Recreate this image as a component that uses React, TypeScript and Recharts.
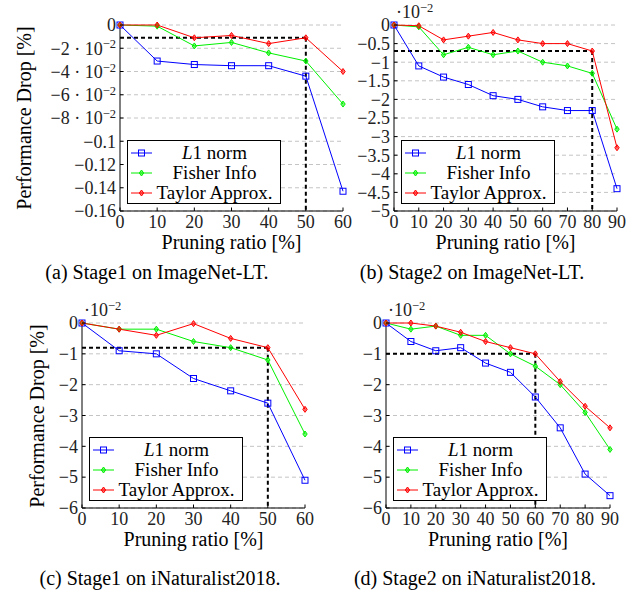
import React from 'react';
import { LineChart, Line, XAxis, YAxis, CartesianGrid, ReferenceLine, Legend } from 'recharts';

const FONT = 'Liberation Serif, Times New Roman, serif';

// ---------- Data ----------
// (a) Stage1 on ImageNet-LT
const ratiosA = [0, 10, 20, 30, 40, 50, 60];
const l1A = [0, -0.031, -0.034, -0.035, -0.035, -0.044, -0.143];
const fisherA = [0, -0.001, -0.018, -0.015, -0.024, -0.031, -0.068];
const taylorA = [0, 0, -0.011, -0.009, -0.016, -0.011, -0.04];
const yTicksA = [0, -0.02, -0.04, -0.06, -0.08, -0.1, -0.12, -0.14, -0.16];
const yTickLabelsA: [string, string][] = [
  ['0', ''], ['\u22122 \u00b7 10', '\u22122'], ['\u22124 \u00b7 10', '\u22122'], ['\u22126 \u00b7 10', '\u22122'],
  ['\u22128 \u00b7 10', '\u22122'], ['\u22120.1', ''], ['\u22120.12', ''], ['\u22120.14', ''], ['\u22120.16', ''],
];
const cutoffA = { x: 50, y: -0.011 };

// (b) Stage2 on ImageNet-LT (values in 10^-2)
const ratiosB = [0, 10, 20, 30, 40, 50, 60, 70, 80, 90];
const l1B = [0, -1.1, -1.4, -1.6, -1.9, -2.0, -2.2, -2.3, -2.3, -4.4];
const fisherB = [0, -0.05, -0.8, -0.6, -0.8, -0.7, -1.0, -1.1, -1.3, -2.8];
const taylorB = [0, -0.02, -0.4, -0.3, -0.2, -0.4, -0.5, -0.5, -0.7, -3.3];
const yTicksB = [0, -0.5, -1, -1.5, -2, -2.5, -3, -3.5, -4, -4.5, -5];
const yTickLabelsB: [string, string][] = [
  ['0', ''], ['\u22120.5', ''], ['\u22121', ''], ['\u22121.5', ''], ['\u22122', ''], ['\u22122.5', ''],
  ['\u22123', ''], ['\u22123.5', ''], ['\u22124', ''], ['\u22124.5', ''], ['\u22125', ''],
];
const cutoffB = { x: 80, y: -0.7 };

// (c) Stage1 on iNaturalist2018 (values in 10^-2)
const ratiosC = [0, 10, 20, 30, 40, 50, 60];
const l1C = [0, -0.9, -1.0, -1.8, -2.2, -2.6, -5.1];
const fisherC = [0, -0.2, -0.2, -0.6, -0.8, -1.2, -3.6];
const taylorC = [0, -0.2, -0.4, -0.02, -0.5, -0.8, -2.8];
const yTicksC = [0, -1, -2, -3, -4, -5, -6];
const yTickLabelsC: [string, string][] = [
  ['0', ''], ['\u22121', ''], ['\u22122', ''], ['\u22123', ''], ['\u22124', ''], ['\u22125', ''], ['\u22126', ''],
];
const cutoffC = { x: 50, y: -0.8 };

// (d) Stage2 on iNaturalist2018 (values in 10^-2)
const ratiosD = [0, 10, 20, 30, 40, 50, 60, 70, 80, 90];
const l1D = [0, -0.6, -0.9, -0.8, -1.3, -1.6, -2.4, -3.4, -4.9, -5.6];
const fisherD = [0, -0.2, -0.1, -0.4, -0.4, -1.0, -1.4, -2.0, -2.9, -4.1];
const taylorD = [0, 0, -0.1, -0.3, -0.6, -0.8, -1.0, -1.9, -2.7, -3.4];
const yTicksD = yTicksC;
const yTickLabelsD = yTickLabelsC;
const cutoffD = { x: 60, y: -1.0 };

const xTicks60 = [0, 10, 20, 30, 40, 50, 60];
const xTicks90 = [0, 10, 20, 30, 40, 50, 60, 70, 80, 90];

const seriesNames = ['L1 norm', 'Fisher Info', 'Taylor Approx.'];
const xTitle = 'Pruning ratio [%]';
const yTitle = 'Performance Drop [%]';
const captions = [
  '(a) Stage1 on ImageNet-LT.',
  '(b) Stage2 on ImageNet-LT.',
  '(c) Stage1 on iNaturalist2018.',
  '(d) Stage2 on iNaturalist2018.',
];

const COLORS = { l1: '#0000ff', fisher: '#00f000', taylor: '#ff0000' };

function buildRows(r: number[], a: number[], b: number[], c: number[]) {
  return r.map((x, i) => ({ ratio: x, l1: a[i], fisher: b[i], taylor: c[i] }));
}

type Cfg = {
  data: any[];
  xTicks: number[];
  yTicks: number[];
  yLabels: [string, string][];
  cutoff: { x: number; y: number };
  plot: { left: number; top: number; width: number; height: number };
  mL: number;
  multiplier: boolean;
  yTitleX: number | null;
  caption: string;
  captionX: number;
  captionY: number;
};

const panels: Cfg[] = [
  {
    data: buildRows(ratiosA, l1A, fisherA, taylorA), xTicks: xTicks60, yTicks: yTicksA, yLabels: yTickLabelsA,
    cutoff: cutoffA, plot: { left: 120, top: 25, width: 223, height: 186 }, mL: 100, multiplier: false,
    yTitleX: 24, caption: captions[0], captionX: 157, captionY: 272,
  },
  {
    data: buildRows(ratiosB, l1B, fisherB, taylorB), xTicks: xTicks90, yTicks: yTicksB, yLabels: yTickLabelsB,
    cutoff: cutoffB, plot: { left: 394, top: 25, width: 223, height: 186 }, mL: 50, multiplier: true,
    yTitleX: null, caption: captions[1], captionX: 472, captionY: 272,
  },
  {
    data: buildRows(ratiosC, l1C, fisherC, taylorC), xTicks: xTicks60, yTicks: yTicksC, yLabels: yTickLabelsC,
    cutoff: cutoffC, plot: { left: 82, top: 323, width: 223, height: 185 }, mL: 36, multiplier: true,
    yTitleX: 37, caption: captions[2], captionX: 160, captionY: 578,
  },
  {
    data: buildRows(ratiosD, l1D, fisherD, taylorD), xTicks: xTicks90, yTicks: yTicksD, yLabels: yTickLabelsD,
    cutoff: cutoffD, plot: { left: 386, top: 323, width: 224, height: 185 }, mL: 36, multiplier: true,
    yTitleX: null, caption: captions[3], captionX: 475, captionY: 578,
  },
];

const squareDot = (color: string) => (p: any) => {
  const { cx, cy, index } = p;
  if (cx == null || cy == null) return <g key={`s${index}`} />;
  return <rect key={`s${index}`} x={cx - 3} y={cy - 3} width={6} height={6} fill="none" stroke={color} strokeWidth={1} />;
};

const diamondDot = (color: string) => (p: any) => {
  const { cx, cy, index } = p;
  if (cx == null || cy == null) return <g key={`d${index}`} />;
  return (
    <path key={`d${index}`} d={`M${cx},${cy - 3} L${cx + 2.2},${cy} L${cx},${cy + 3} L${cx - 2.2},${cy} Z`}
      fill={color} fillOpacity={0.55} stroke={color} strokeWidth={1} />
  );
};

function MarkerSample({ kind, color }: { kind: string; color: string }) {
  return (
    <svg width={26} height={20} style={{ display: 'block', flex: 'none' }}>
      <line x1={3} x2={24} y1={10} y2={10} stroke={color} strokeWidth={1} />
      {kind === 'square' ? (
        <rect x={10.5} y={7} width={6} height={6} fill="none" stroke={color} strokeWidth={1} />
      ) : (
        <path d="M13.5,7 L15.7,10 L13.5,13 L11.3,10 Z" fill={color} fillOpacity={0.55} stroke={color} strokeWidth={1} />
      )}
    </svg>
  );
}

function LegendBox() {
  const entries = [
    { kind: 'square', color: COLORS.l1, label: <span><i>L</i>1{seriesNames[0].slice(2)}</span> },
    { kind: 'diamond', color: COLORS.fisher, label: <span>{seriesNames[1]}</span> },
    { kind: 'diamond', color: COLORS.taylor, label: <span>{seriesNames[2]}</span> },
  ];
  return (
    <div style={{ boxSizing: 'border-box', width: 154, height: 64, border: '1px solid #000', background: '#fff',
      paddingTop: 2, fontFamily: FONT, fontSize: 19, color: '#000' }}>
      {entries.map((e, i) => (
        <div key={i} style={{ display: 'flex', alignItems: 'center', height: 20 }}>
          <MarkerSample kind={e.kind} color={e.color} />
          <div style={{ flex: 1, textAlign: 'center', lineHeight: '20px', paddingRight: 5, whiteSpace: 'nowrap', fontFamily: FONT }}>{e.label}</div>
        </div>
      ))}
    </div>
  );
}

function Panel({ cfg }: { cfg: Cfg }) {
  const mL = cfg.mL, mT = 12, mR = 12, mB = 30;
  const W = cfg.plot.width + mL + mR;
  const H = cfg.plot.height + mT + mB;
  const xMax = cfg.xTicks[cfg.xTicks.length - 1];
  const yMin = cfg.yTicks[cfg.yTicks.length - 1];
  const TL = 3.5;
  const tickStyle = { fontFamily: FONT };

  const bottomTick = (p: any) => {
    const { x, y, payload } = p;
    return (
      <g>
        <line x1={x} x2={x} y1={y} y2={y - TL} stroke="#000" strokeWidth={1} />
        <text x={x} y={y + 16.5} textAnchor="middle" fontSize={18} fontFamily={FONT} style={tickStyle} fill="#222">{payload.value}</text>
      </g>
    );
  };
  const topTick = (p: any) => {
    const { x, y } = p;
    return <line x1={x} x2={x} y1={y} y2={y + TL} stroke="#000" strokeWidth={1} />;
  };
  const leftTick = (p: any) => {
    const { x, y, payload } = p;
    const idx = cfg.yTicks.indexOf(payload.value);
    const lab = cfg.yLabels[idx] || [String(payload.value), ''];
    return (
      <g>
        <line x1={x} x2={x + TL} y1={y} y2={y} stroke="#000" strokeWidth={1} />
        <text x={x - 4} y={y} dy="0.35em" textAnchor="end" fontSize={18} fontFamily={FONT} style={tickStyle} fill="#222">
          {lab[0]}
          {lab[1] ? <tspan dy="-0.5em" fontSize={12.5}>{lab[1]}</tspan> : null}
        </text>
      </g>
    );
  };
  const rightTick = (p: any) => {
    const { x, y } = p;
    return <line x1={x} x2={x - TL} y1={y} y2={y} stroke="#000" strokeWidth={1} />;
  };

  return (
    <div style={{ position: 'absolute', left: cfg.plot.left - mL, top: cfg.plot.top - mT, width: W, height: H }}>
      <LineChart width={W} height={H} data={cfg.data} margin={{ top: mT, right: mR, bottom: 0, left: 0 }}>
        <CartesianGrid horizontal vertical={false} stroke="#c4c4c4" strokeDasharray="4 3" />
        <XAxis xAxisId={0} dataKey="ratio" type="number" domain={[0, xMax]} ticks={cfg.xTicks} interval={0}
          height={mB} tickSize={0} tickMargin={0} tickLine={false} axisLine={{ stroke: '#000' }} tick={bottomTick} />
        <XAxis xAxisId="top" orientation="top" dataKey="ratio" type="number" domain={[0, xMax]} ticks={cfg.xTicks}
          interval={0} height={0} tickSize={0} tickMargin={0} tickLine={false} axisLine={{ stroke: '#000' }} tick={topTick} />
        <YAxis yAxisId={0} type="number" domain={[yMin, 0]} ticks={cfg.yTicks} interval={0} width={mL}
          tickSize={0} tickMargin={0} tickLine={false} axisLine={{ stroke: '#000' }} tick={leftTick} />
        <YAxis yAxisId="right" orientation="right" type="number" domain={[yMin, 0]} ticks={cfg.yTicks} interval={0}
          width={0} tickSize={0} tickMargin={0} tickLine={false} axisLine={{ stroke: '#000' }} tick={rightTick} />
        <ReferenceLine segment={[{ x: 0, y: cfg.cutoff.y }, { x: cfg.cutoff.x, y: cfg.cutoff.y }]}
          stroke="#000" strokeWidth={2} strokeDasharray="4 3" ifOverflow="visible" />
        <ReferenceLine segment={[{ x: cfg.cutoff.x, y: cfg.cutoff.y }, { x: cfg.cutoff.x, y: yMin }]}
          stroke="#000" strokeWidth={2} strokeDasharray="4 3" ifOverflow="visible" />
        <Line type="linear" dataKey="l1" stroke={COLORS.l1} strokeWidth={1} dot={squareDot(COLORS.l1)} isAnimationActive={false} />
        <Line type="linear" dataKey="fisher" stroke={COLORS.fisher} strokeWidth={1} dot={diamondDot(COLORS.fisher)} isAnimationActive={false} />
        <Line type="linear" dataKey="taylor" stroke={COLORS.taylor} strokeWidth={1} dot={diamondDot(COLORS.taylor)} isAnimationActive={false} />
        <Legend layout="vertical" align="center" verticalAlign="middle"
          wrapperStyle={{ left: mL + 7, top: mT + cfg.plot.height - 7 - 64, width: 154, height: 64, bottom: 'auto', right: 'auto', margin: 0 }}
          content={() => <LegendBox />} />
      </LineChart>
    </div>
  );
}

export default function App() {
  return (
    <div style={{ position: 'absolute', left: 0, top: 0, width: 634, height: 594, background: '#fff', fontFamily: FONT, color: '#000', overflow: 'hidden' }}>
      {panels.map((cfg, i) => (
        <React.Fragment key={i}>
          <Panel cfg={cfg} />
          {cfg.multiplier ? (
            <div style={{ position: 'absolute', left: cfg.plot.left + 2, top: cfg.plot.top - 23, fontSize: 18, lineHeight: '20px', whiteSpace: 'nowrap', color: '#222', fontFamily: FONT }}>
              {'\u00b710'}<sup style={{ fontSize: 12.5, verticalAlign: 'top', position: 'relative', top: -4 }}>{'\u22122'}</sup>
            </div>
          ) : null}
          <div style={{ position: 'absolute', left: cfg.plot.left + cfg.plot.width / 2, top: cfg.plot.top + cfg.plot.height + 31,
            transform: 'translate(-50%, -50%)', fontSize: 20, lineHeight: 1, whiteSpace: 'nowrap', fontFamily: FONT }}>{xTitle}</div>
          {cfg.yTitleX !== null ? (
            <div style={{ position: 'absolute', left: cfg.yTitleX, top: cfg.plot.top + cfg.plot.height / 2,
              transform: 'translate(-50%, -50%) rotate(-90deg)', fontSize: 20, lineHeight: 1, whiteSpace: 'nowrap', fontFamily: FONT }}>{yTitle}</div>
          ) : null}
          <div style={{ position: 'absolute', left: cfg.captionX, top: cfg.captionY, transform: 'translate(-50%, -50%)',
            fontSize: 20, lineHeight: 1, whiteSpace: 'nowrap', fontFamily: FONT }}>{cfg.caption}</div>
        </React.Fragment>
      ))}
    </div>
  );
}
